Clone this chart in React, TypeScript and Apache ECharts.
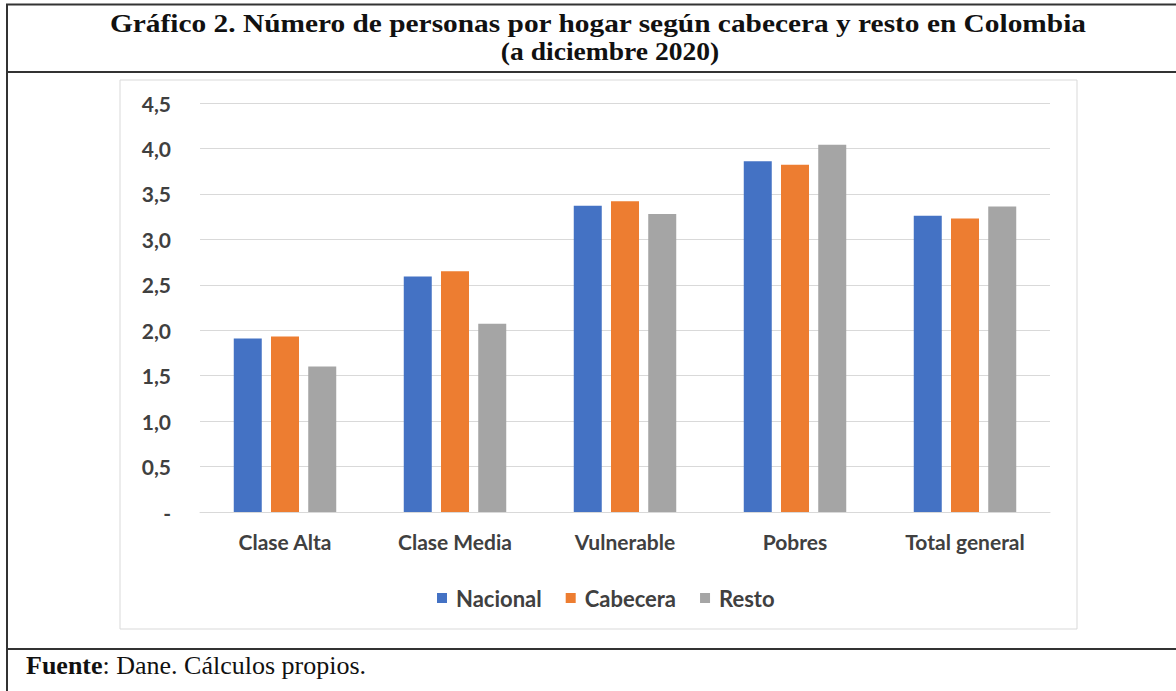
import React, { useEffect, useRef } from "react";
import * as echarts from "echarts";

const categories = ["Clase Alta", "Clase Media", "Vulnerable", "Pobres", "Total general"];
const nacional = [1.91, 2.59, 3.37, 3.86, 3.26];
const cabecera = [1.93, 2.65, 3.42, 3.82, 3.23];
const resto = [1.6, 2.07, 3.28, 4.04, 3.36];
const seriesNames = ["Nacional", "Cabecera", "Resto"];
const colors = ["#4472C4", "#ED7D31", "#A5A5A5"];
const titleLines = [
  "Gráfico 2. Número de personas por hogar según cabecera y resto en Colombia",
  "(a diciembre 2020)",
];

export default function App() {
  const ref = useRef<HTMLDivElement>(null);
  useEffect(() => {
    if (!ref.current) return;
    const chart = echarts.init(ref.current, null, { renderer: "svg" });
    const sansFont = "Lato, 'Open Sans', sans-serif";
    const serifFont = "'Liberation Serif', 'DejaVu Serif', serif";
    const data = [nacional, cabecera, resto];
    chart.setOption({
      animation: false,
      backgroundColor: "#ffffff",
      grid: { left: 200, right: 126, top: 103, bottom: 179, containLabel: false },
      legend: {
        left: 432,
        top: 582,
        itemWidth: 10,
        itemHeight: 10,
        itemGap: 24,
        icon: "rect",
        textStyle: { fontFamily: sansFont, fontWeight: "bold", fontSize: 22, color: "#404040", padding: [0, 0, 0, 4] },
        data: seriesNames,
      },
      xAxis: {
        type: "category",
        data: categories,
        axisLine: { show: true, lineStyle: { color: "#D9D9D9" } },
        axisTick: { show: false },
        axisLabel: { fontFamily: sansFont, fontWeight: "bold", fontSize: 21, color: "#404040", margin: 19 },
      },
      yAxis: {
        type: "value",
        min: 0,
        max: 4.5,
        interval: 0.5,
        axisLine: { show: false },
        axisTick: { show: false },
        splitLine: { lineStyle: { color: "#D9D9D9", width: 1 } },
        axisLabel: {
          fontFamily: sansFont,
          fontWeight: "bold",
          fontSize: 21,
          color: "#404040",
          margin: 29,
          formatter: (v: number) => (v === 0 ? "-" : v.toFixed(1).replace(".", ",")),
        },
      },
      series: data.map((d, i) => ({
        name: seriesNames[i],
        type: "bar",
        data: d,
        barWidth: 28,
        barGap: "33%",
        itemStyle: { color: colors[i] },
      })),
      graphic: [
        { type: "rect", silent: true, z: -1, shape: { x: 120, y: 80, width: 957, height: 549 }, style: { fill: "none", stroke: "#D9D9D9", lineWidth: 1 } },
        { type: "line", silent: true, shape: { x1: 6, y1: 4.5, x2: 1176, y2: 4.5 }, style: { stroke: "#333", lineWidth: 2 } },
        { type: "line", silent: true, shape: { x1: 7, y1: 4, x2: 7, y2: 691 }, style: { stroke: "#333", lineWidth: 2 } },
        { type: "line", silent: true, shape: { x1: 6, y1: 72, x2: 1176, y2: 72 }, style: { stroke: "#333", lineWidth: 2 } },
        { type: "line", silent: true, shape: { x1: 6, y1: 649, x2: 1176, y2: 649 }, style: { stroke: "#333", lineWidth: 2 } },
        {
          type: "text",
          x: 598,
          y: 23,
          scaleX: 1.13,
          style: { text: titleLines[0], fontFamily: serifFont, fontWeight: "bold", fontSize: 26, fill: "#111", align: "center", verticalAlign: "middle" },
        },
        {
          type: "text",
          x: 610,
          y: 51,
          scaleX: 1.06,
          style: { text: titleLines[1], fontFamily: serifFont, fontWeight: "bold", fontSize: 26, fill: "#111", align: "center", verticalAlign: "middle" },
        },
        {
          type: "text",
          x: 26,
          y: 665,
          style: {
            text: "{b|Fuente}{n|: Dane. Cálculos propios.}",
            verticalAlign: "middle",
            rich: {
              b: { fontFamily: serifFont, fontWeight: "bold", fontSize: 26, fill: "#111" },
              n: { fontFamily: serifFont, fontSize: 26, fill: "#111" },
            },
          },
        },
      ],
    });
    return () => chart.dispose();
  }, []);
  return <div ref={ref} style={{ position: "fixed", left: 0, top: 0, width: 1176, height: 691 }} />;
}
